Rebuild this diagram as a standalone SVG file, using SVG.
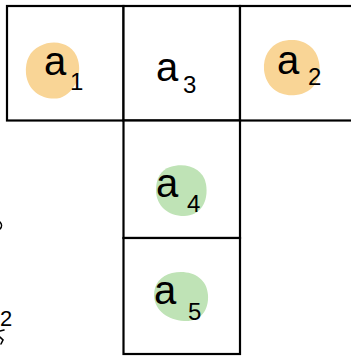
<svg xmlns="http://www.w3.org/2000/svg" width="351" height="359" viewBox="0 0 351 359">
<style>
.cell{fill:#fff;stroke:#000;stroke-width:2.2}
.lbl{font-family:"Liberation Sans","DejaVu Sans",sans-serif;fill:#000}
.main{font-size:40px}
.sub{font-size:24px}
.orange{fill:#f9d596}
.green{fill:#bfe3b6}
.frag{fill:none;stroke:#000;stroke-width:1.6;stroke-linecap:round}
</style>
<rect width="351" height="359" fill="#fff"/>
<g id="a1">
<rect class="cell" x="7" y="6" width="116.5" height="114.5"/>
<path class="orange" d="M40 46 C55 38 74 44 78 60 C82 74 76 92 60 98 C44 101 28 92 26 74 C25 60 30 51 40 46 Z"/>
<text class="lbl main" x="44" y="75">a</text>
<text class="lbl sub" x="70" y="90">1</text>
</g>
<g id="a3">
<rect class="cell" x="123.5" y="6" width="116.5" height="114.5"/>
<text class="lbl main" x="156" y="81">a</text>
<text class="lbl sub" x="183" y="93">3</text>
</g>
<g id="a2">
<rect class="cell" x="240" y="6" width="120" height="114.5"/>
<path class="orange" d="M280 42 C298 36 316 44 319 62 C322 78 314 93 296 95 C280 97 266 88 264 70 C263 56 270 46 280 42 Z"/>
<text class="lbl main" x="277" y="74">a</text>
<text class="lbl sub" x="308" y="85">2</text>
</g>
<g id="a4">
<rect class="cell" x="123.5" y="120.5" width="116.5" height="117.5"/>
<path class="green" d="M170 167 C186 162 203 168 206 184 C209 202 200 216 184 216 C168 216 156 206 156 190 C156 178 161 170 170 167 Z"/>
<text class="lbl main" x="156" y="197">a</text>
<text class="lbl sub" x="187" y="212">4</text>
</g>
<g id="a5">
<rect class="cell" x="123.5" y="238" width="116.5" height="116"/>
<path class="green" d="M172 273 C190 269 207 277 208 295 C209 311 200 322 184 321 C168 320 155 311 154 296 C154 283 161 276 172 273 Z"/>
<text class="lbl main" x="154" y="304">a</text>
<text class="lbl sub" x="188" y="320">5</text>
</g>
<g id="fragments">
<path class="frag" d="M0 222 C2 224 2 227 0 229"/>
<text class="lbl" style="font-size:22px" x="0" y="326">2</text>
<path class="frag" d="M0 331 L4 330 M0 337 L3 340 L1 344"/>
</g>
</svg>
